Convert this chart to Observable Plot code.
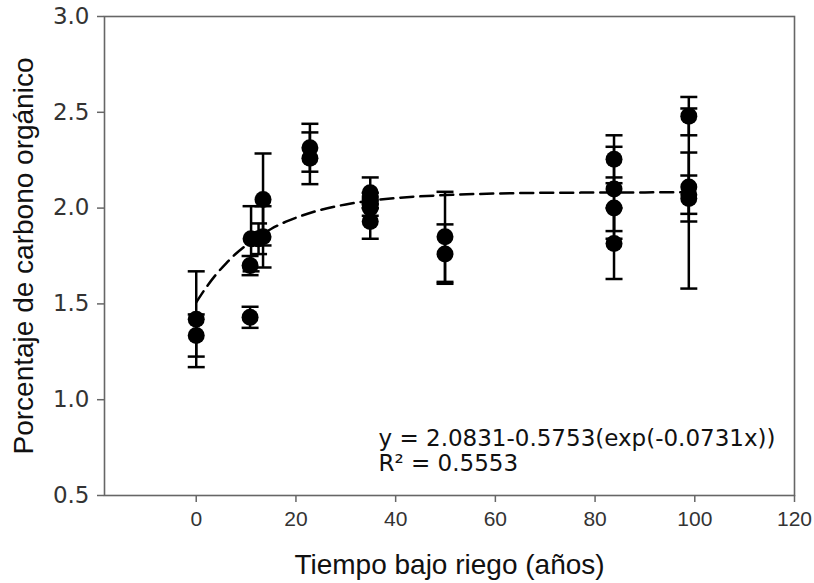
<!DOCTYPE html>
<html>
<head>
<meta charset="utf-8">
<script src="https://cdn.jsdelivr.net/npm/d3@7"></script>
<script src="https://cdn.jsdelivr.net/npm/@observablehq/plot@0.6"></script>
<style>
  html, body { margin: 0; padding: 0; background: #fff; }
  #chart svg { display: block; }
</style>
</head>
<body>
<div id="chart"></div>
<script>
// Observations: years under irrigation, % organic carbon, error (half-length of bar)
const years  = [0, 0, 10.8, 10.8, 11, 12.5, 13.4, 13.4, 22.8, 22.8, 34.9, 34.9, 34.9, 34.9, 34.9, 49.9, 49.9, 83.8, 83.8, 83.8, 83.8, 98.8, 98.8, 98.8, 98.8];
const carbon = [1.42, 1.335, 1.70, 1.43, 1.84, 1.84, 1.85, 2.045, 2.315, 2.26, 2.08, 2.05, 2.03, 2.00, 1.93, 1.85, 1.76, 2.255, 2.10, 2.00, 1.815, 2.48, 2.11, 2.07, 2.05];
const errors = [0.25, 0.11, 0.05, 0.055, 0.17, 0.08, 0.16, 0.24, 0.125, 0.135, 0.08, 0.03, 0.03, 0.04, 0.09, 0.235, 0.155, 0.125, 0.22, 0.16, 0.185, 0.10, 0.18, 0.10, 0.47];

// Fitted curve: y = 2.0831-0.5753(exp(-0.0731x))
const fitX = [0, 2, 4, 6, 8, 10, 12, 15, 18, 21, 25, 30, 35, 40, 50, 60, 70, 80, 90, 100];
const fitY = [1.508, 1.586, 1.654, 1.712, 1.763, 1.806, 1.844, 1.891, 1.929, 1.959, 1.991, 2.019, 2.039, 2.052, 2.068, 2.076, 2.080, 2.081, 2.082, 2.083];

const xTicks = [0, 20, 40, 60, 80, 100, 120];
const yTicks = [0.5, 1.0, 1.5, 2.0, 2.5, 3.0];

const xTitle = "Tiempo bajo riego (años)";
const yTitle = "Porcentaje de carbono orgánico";
const eqLines = ["y = 2.0831-0.5753(exp(-0.0731x))", "R² = 0.5553"];

const obs = years.map((x, i) => ({x, y: carbon[i], e: errors[i]}));
const fit = fitX.map((x, i) => ({x, y: fitY[i]}));

const cap = {
  draw(ctx, size) {
    const w = Math.sqrt(size / Math.PI);
    ctx.moveTo(-w, 0);
    ctx.lineTo(w, 0);
  }
};

const chart = Plot.plot({
  width: 814,
  height: 583,
  marginLeft: 104,
  marginRight: 20,
  marginTop: 16,
  marginBottom: 88,
  style: {background: "#fff"},
  x: {domain: [-18.4, 120]},
  y: {domain: [0.5, 3.0]},
  marks: [
    Plot.frame({stroke: "#666", strokeWidth: 1.6}),
    Plot.axisX({ticks: xTicks, tickSize: 7, tickPadding: 9, stroke: "#666", strokeWidth: 1.5,
      fontSize: 21, fill: "#333", fontFamily: "Liberation Sans", label: null}),
    Plot.axisY({ticks: yTicks, tickSize: 7, tickPadding: 8, tickFormat: d3.format(".1f"), stroke: "#666", strokeWidth: 1.5,
      fontSize: 23, fill: "#333", fontFamily: "DejaVu Sans", label: null}),
    Plot.line(fit, {x: "x", y: "y", stroke: "#000", strokeWidth: 2.5, strokeDasharray: "13,7", curve: "monotone-x"}),
    Plot.ruleX(obs, {x: "x", y1: d => d.y - d.e, y2: d => d.y + d.e, stroke: "#000", strokeWidth: 2.5}),
    Plot.dot(obs, {x: "x", y: "y", r: 8.5, fill: "#000", stroke: "none"}),
    Plot.dot(obs, {x: "x", y: d => d.y + d.e, symbol: cap, r: 8.5, stroke: "#000", strokeWidth: 2.5}),
    Plot.dot(obs, {x: "x", y: d => d.y - d.e, symbol: cap, r: 8.5, stroke: "#000", strokeWidth: 2.5}),
    Plot.text([xTitle], {frameAnchor: "bottom", dy: 78, fontSize: 28, fill: "#111", fontFamily: "Liberation Sans", lineAnchor: "bottom"}),
    Plot.text([yTitle], {frameAnchor: "left", dx: -80, rotate: -90, textAnchor: "middle", fontSize: 28, fill: "#111", fontFamily: "Liberation Sans"}),
    Plot.text([eqLines[0]], {frameAnchor: "bottom-left", dx: 274, dy: -50, textAnchor: "start", lineAnchor: "bottom", fontSize: 23, fill: "#111", fontFamily: "DejaVu Sans"}),
    Plot.text([eqLines[1]], {frameAnchor: "bottom-left", dx: 274, dy: -25, textAnchor: "start", lineAnchor: "bottom", fontSize: 23, fill: "#111", fontFamily: "DejaVu Sans"})
  ]
});

document.getElementById("chart").appendChild(chart);
</script>
</body>
</html>
